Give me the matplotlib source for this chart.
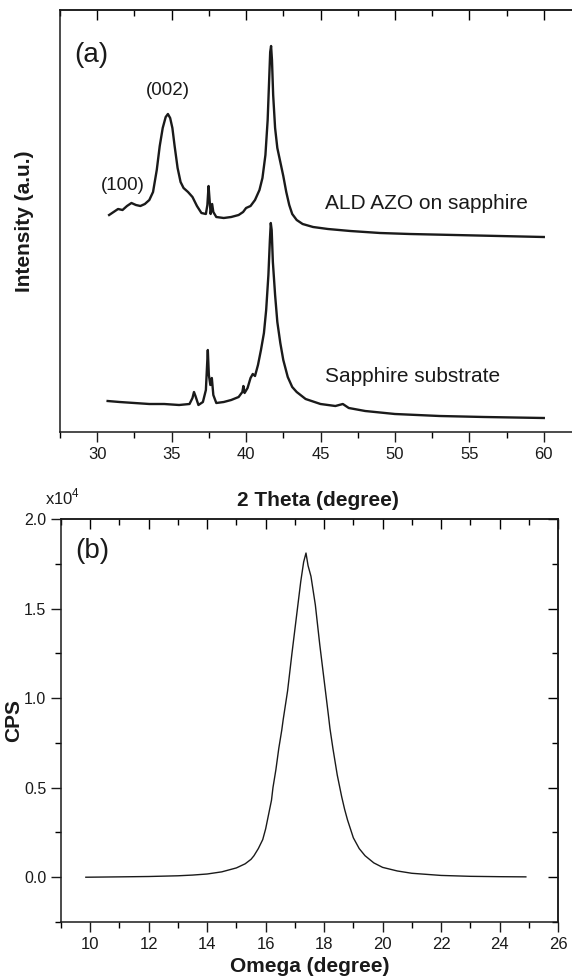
import numpy as np
import matplotlib
matplotlib.use("Agg")
import matplotlib.pyplot as plt
from matplotlib.ticker import MultipleLocator, NullFormatter

plt.rcParams['font.family'] = ['Liberation Sans', 'DejaVu Sans']
plt.rcParams['mathtext.fontset'] = 'custom'
plt.rcParams['mathtext.rm'] = 'Liberation Sans'

# (a) XRD 2theta scans, intensity in arbitrary units
theta_azo = [30.8, 31.1, 31.4, 31.7, 32.0, 32.3, 32.6, 32.9, 33.2, 33.5, 33.75, 34.0,
             34.2, 34.4, 34.6, 34.75, 34.9, 35.05, 35.2, 35.4, 35.6, 35.8, 36.1, 36.4,
             36.7, 37.0, 37.3, 37.4, 37.48, 37.55, 37.62, 37.72, 37.8, 38.0, 38.5, 39.0,
             39.5, 39.8, 40.0, 40.3, 40.6, 40.9, 41.1, 41.3, 41.45, 41.55, 41.62, 41.68,
             41.74, 41.82, 41.95, 42.1, 42.3, 42.5, 42.7, 42.9, 43.1, 43.4, 43.8, 44.5,
             45.5, 47.0, 49.0, 51.0, 54.0, 57.0, 60.0]
int_azo = [217, 220, 223, 222, 226, 229, 227, 226, 228, 232, 240, 262,
           286, 304, 315, 318, 314, 304, 286, 264, 250, 244, 240, 235,
           226, 219, 218, 227, 246, 232, 218, 228, 220, 215, 214, 215,
           217, 220, 224, 226, 232, 242, 254, 277, 312, 352, 380, 386,
           372, 337, 304, 284, 270, 256, 240, 227, 218, 212, 208, 205,
           203, 201, 199, 198, 197, 196, 195]

theta_sub = [30.7, 31.5, 32.5, 33.5, 34.5, 35.5, 36.2, 36.4, 36.5, 36.6, 36.8, 37.1,
             37.3, 37.43, 37.5, 37.6, 37.7, 37.8, 38.0, 38.5, 39.0, 39.5, 39.75, 39.82,
             39.9, 40.1, 40.3, 40.45, 40.6, 40.8, 41.0, 41.2, 41.35, 41.5, 41.6, 41.66,
             41.72, 41.8, 41.95, 42.1, 42.3, 42.5, 42.8, 43.1, 43.4, 44.0, 45.0, 46.0,
             46.5, 46.9, 48.0, 50.0, 53.0, 56.0, 60.0]
int_sub = [31, 30, 29, 28, 28, 27, 28, 34, 40, 36, 27, 30,
           42, 82, 57, 47, 54, 37, 29, 30, 32, 35, 40, 46,
           39, 44, 54, 58, 56, 67, 82, 99, 122, 157, 192, 209,
           202, 170, 137, 110, 89, 72, 55, 45, 40, 33, 28, 26,
           28, 24, 21, 18, 16, 15, 14]

# (b) rocking curve, CPS in units of 1e4
omega = [9.85, 11.0, 12.0, 13.0, 13.5, 14.0, 14.5, 15.0, 15.3, 15.5, 15.6, 15.75,
         15.9, 16.0, 16.1, 16.2, 16.25, 16.35, 16.45, 16.55, 16.6, 16.75, 16.9, 17.05,
         17.2, 17.3, 17.38, 17.45, 17.55, 17.7, 17.85, 18.0, 18.15, 18.2, 18.3, 18.45,
         18.6, 18.7, 18.8, 18.9, 19.0, 19.1, 19.2, 19.4, 19.7, 20.0, 20.5, 21.0,
         22.0, 23.0, 24.0, 24.9]
cps = [0.0, 0.002, 0.004, 0.008, 0.012, 0.018, 0.03, 0.052, 0.075, 0.10, 0.12, 0.16,
       0.21, 0.27, 0.35, 0.43, 0.50, 0.60, 0.72, 0.82, 0.88, 1.04, 1.25, 1.45,
       1.65, 1.76, 1.81, 1.74, 1.68, 1.52, 1.30, 1.10, 0.90, 0.83, 0.72, 0.57,
       0.45, 0.38, 0.32, 0.27, 0.22, 0.19, 0.16, 0.12, 0.08, 0.055, 0.035, 0.022,
       0.01, 0.005, 0.003, 0.002]

W, H = 572, 980
fig = plt.figure(figsize=(W / 100, H / 100), dpi=100)
ink = '#1a1a1a'

# ---- panel (a)
ax1 = fig.add_axes([60 / W, 1 - 432 / H, 521 / W, 422 / H])
ax1.plot(theta_azo, int_azo, color=ink, lw=1.7)
ax1.plot(theta_sub, int_sub, color=ink, lw=1.7)
ax1.set_xlim(27.5, 62.5)
ax1.set_ylim(0, 422)
ax1.spines['right'].set_visible(False)
ax1.set_yticks([])
ax1.xaxis.set_major_locator(MultipleLocator(5))
ax1.xaxis.set_minor_locator(MultipleLocator(2.5))
ax1.tick_params(axis='x', which='major', direction='out', length=7, width=1, labelsize=12, colors=ink)
ax1.tick_params(axis='x', which='minor', direction='out', length=4, width=1)
top1 = ax1.secondary_xaxis('top')
top1.xaxis.set_major_locator(MultipleLocator(5))
top1.xaxis.set_minor_locator(MultipleLocator(2.5))
top1.xaxis.set_major_formatter(NullFormatter())
top1.tick_params(which='major', direction='in', length=7, width=1)
top1.tick_params(which='minor', direction='in', length=4, width=1)
for ax in (ax1, top1):
    for s in ax.spines.values():
        s.set_linewidth(1.1)
        s.set_color(ink)

ax1.text(0.028, 0.893, '(a)', transform=ax1.transAxes, va='center', fontsize=20, color=ink)
ax1.text(34.75, 333, '(002)', ha='center', va='bottom', fontsize=13.5, color=ink)
ax1.text(31.7, 238, '(100)', ha='center', va='bottom', fontsize=13.5, color=ink)
ax1.text(45.3, 228, 'ALD AZO on sapphire', ha='left', va='center', fontsize=15, color=ink)
ax1.text(45.3, 56, 'Sapphire substrate', ha='left', va='center', fontsize=15, color=ink)

fig.text(24 / W, 1 - 221 / H, 'Intensity (a.u.)', rotation=90, ha='center', va='center',
         fontsize=15, fontweight='bold', color=ink)
fig.text(318 / W, 1 - 500 / H, '2 Theta (degree)', ha='center', va='center',
         fontsize=15, fontweight='bold', color=ink)

# ---- panel (b)
ax2 = fig.add_axes([61 / W, 1 - 922 / H, 497 / W, 403 / H])
ax2.plot(omega, cps, color=ink, lw=1.0)
ax2.set_xlim(9, 26)
ax2.set_ylim(-0.25, 2.0)
ax2.xaxis.set_major_locator(MultipleLocator(2))
ax2.xaxis.set_minor_locator(MultipleLocator(1))
ax2.yaxis.set_major_locator(MultipleLocator(0.5))
ax2.yaxis.set_minor_locator(MultipleLocator(0.25))
ax2.yaxis.set_major_formatter(plt.FuncFormatter(lambda v, p: f'{v:.1f}'))
ax2.tick_params(which='major', direction='out', length=7, width=1, labelsize=12, colors=ink)
ax2.tick_params(axis='y', labelsize=11.5)
ax2.tick_params(which='minor', direction='out', length=4, width=1)
top2 = ax2.secondary_xaxis('top')
right2 = ax2.secondary_yaxis('right')
top2.xaxis.set_major_locator(MultipleLocator(2))
top2.xaxis.set_minor_locator(MultipleLocator(1))
right2.yaxis.set_major_locator(MultipleLocator(0.5))
right2.yaxis.set_minor_locator(MultipleLocator(0.25))
for sec in (top2, right2):
    sec.tick_params(which='major', direction='in', length=7, width=1, labelleft=False,
                    labelright=False, labeltop=False)
    sec.tick_params(which='minor', direction='in', length=4, width=1)
top2.xaxis.set_major_formatter(NullFormatter())
right2.yaxis.set_major_formatter(NullFormatter())
for ax in (ax2, top2, right2):
    for s in ax.spines.values():
        s.set_linewidth(1.1)
        s.set_color(ink)

ax2.text(0.028, 0.92, '(b)', transform=ax2.transAxes, va='center', fontsize=20, color=ink)
fig.text(63 / W, 1 - 497 / H, r'x10$^{4}$', ha='center', va='center', fontsize=12, color=ink)
fig.text(14 / W, 1 - 720 / H, 'CPS', rotation=90, ha='center', va='center',
         fontsize=15, fontweight='bold', color=ink)
fig.text(310 / W, 1 - 966 / H, 'Omega (degree)', ha='center', va='center',
         fontsize=15, fontweight='bold', color=ink)

fig.savefig('out.png', dpi=100)
